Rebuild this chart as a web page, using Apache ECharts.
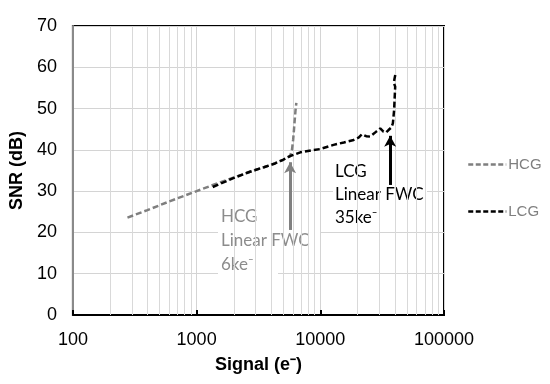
<!DOCTYPE html>
<html>
<head>
<meta charset="utf-8">
<script src="https://cdn.jsdelivr.net/npm/echarts@6/dist/echarts.min.js"></script>
<style>html,body{margin:0;padding:0;background:#fff}#c{width:550px;height:384px}</style>
</head>
<body>
<div id="c"></div>
<script>
// ---- data ----
const hcgX = [276, 400, 600, 1000, 1500, 2000, 2700, 3500, 4300, 5000, 5700, 5900, 6030, 6130, 6210, 6300, 6400];
const hcgY = [23.6, 25.4, 27.5, 30.0, 32.0, 33.3, 34.7, 35.8, 36.7, 37.6, 38.5, 40.0, 42.4, 45.0, 47.2, 49.5, 51.4];
const lcgX = [1350, 2000, 2700, 3500, 4300, 5000, 5700, 6900, 8500, 10000, 12800, 15500, 18600, 20500, 21700, 23500, 25300, 28000, 30500, 32400, 34000, 35600, 37500, 38600, 39500, 40300, 39300, 39800, 40600];
const lcgY = [31.0, 33.2, 34.7, 35.8, 36.7, 37.6, 38.5, 39.4, 39.9, 40.2, 41.2, 41.8, 42.4, 43.0, 43.8, 43.3, 43.2, 44.3, 45.2, 44.4, 44.2, 44.8, 45.4, 46.4, 49.6, 55.3, 56.3, 57.2, 58.5];
const xTickLabels = [100, 1000, 10000, 100000];
const minorGridX = [200,300,400,500,600,700,800,900,2000,3000,4000,5000,6000,7000,8000,9000,20000,30000,40000,50000,60000,70000,80000,90000];
const hcgArrow = [[5700, 20.6], [5700, 37.0]];
const lcgArrow = [[36700, 31.5], [36700, 43.4]];

const chart = echarts.init(document.getElementById('c'), null, {renderer: 'canvas'});
const zip = (xs, ys) => xs.map((x, i) => [x, ys[i]]);
const font = 'Liberation Sans, Arial, sans-serif';
const annFont = 'Lato, "Open Sans", sans-serif';

chart.setOption({
  animation: false,
  backgroundColor: '#fff',
  grid: {left: 72, right: 106, top: 26, bottom: 69, show: true, borderColor: '#000', borderWidth: 2, backgroundColor: 'transparent'},
  xAxis: {
    type: 'log', logBase: 10, min: 100, max: 100000,
    name: 'Signal (e⁻)', nameLocation: 'middle', nameGap: 41,
    nameTextStyle: {fontFamily: font, fontSize: 18, fontWeight: 'bold', color: '#000'},
    axisLine: {show: true, lineStyle: {color: '#000', width: 2}},
    axisTick: {show: true, inside: true, length: 5, lineStyle: {color: '#000', width: 2}},
    axisLabel: {fontFamily: font, fontSize: 18, color: '#000', margin: 16,
      formatter: v => { const r = Math.round(v); return xTickLabels.includes(r) ? String(r) : ''; }},
    splitLine: {show: true, lineStyle: {color: '#d4d4d4', width: 1}}
  },
  yAxis: {
    type: 'value', min: 0, max: 70, interval: 10,
    name: 'SNR (dB)', nameLocation: 'middle', nameGap: 44, nameRotate: 90,
    nameTextStyle: {fontFamily: font, fontSize: 18, fontWeight: 'bold', color: '#000'},
    axisLine: {show: true, lineStyle: {color: '#8a8a8a', width: 2}},
    axisTick: {show: false},
    axisLabel: {fontFamily: font, fontSize: 18, color: '#000', margin: 16},
    splitLine: {show: true, lineStyle: {color: '#d4d4d4', width: 1}}
  },
  legend: [
    {data: ['HCG'], left: 465, top: 155, itemWidth: 38, itemHeight: 14, itemGap: 2, padding: [2, 2],
     itemStyle: {opacity: 0}, lineStyle: {width: 2.5, type: [5, 2.5]},
     textStyle: {fontFamily: font, fontSize: 15, color: '#7f7f7f', padding: [0, 0, 0, -3]}},
    {data: ['LCG'], left: 465, top: 202, itemWidth: 38, itemHeight: 14, itemGap: 2, padding: [2, 2],
     itemStyle: {opacity: 0}, lineStyle: {width: 2.5, type: [5, 2.5]},
     textStyle: {fontFamily: font, fontSize: 15, color: '#7f7f7f', padding: [0, 0, 0, -3]}}
  ],
  graphic: [
    {type: 'rect', z: 3, shape: {x: 218, y: 203, width: 60, height: 74}, style: {fill: '#fff'}},
    {type: 'rect', z: 3, shape: {x: 218, y: 230, width: 102, height: 24}, style: {fill: '#fff'}},
    {type: 'text', z: 4, left: 221, top: 205, style: {text: 'HCG\nLinear FWC\n6ke⁻', fill: '#8c8c8c', font: '17px ' + annFont, lineHeight: 24}},
    {type: 'rect', z: 3, shape: {x: 333, y: 158, width: 52, height: 70}, style: {fill: '#fff'}},
    {type: 'rect', z: 3, shape: {x: 333, y: 183, width: 94, height: 24}, style: {fill: '#fff'}},
    {type: 'text', z: 4, left: 335, top: 160, style: {text: 'LCG\nLinear FWC\n35ke⁻', fill: '#000', font: '17px ' + annFont, lineHeight: 23}}
  ],
  series: [
    {type: 'line', name: 'grid', data: [], z: 1, silent: true,
     markLine: {silent: true, symbol: ['none', 'none'], label: {show: false},
       lineStyle: {color: '#d9d9d9', width: 1, type: 'solid'},
       data: minorGridX.map(x => ({xAxis: x}))}},
    {type: 'line', name: 'HCG', data: zip(hcgX, hcgY), symbol: 'none', z: 5,
     lineStyle: {color: '#7f7f7f', width: 2.5, type: [6, 3]}, itemStyle: {color: '#7f7f7f'}},
    {type: 'line', name: 'LCG', data: zip(lcgX, lcgY), symbol: 'none', z: 6,
     lineStyle: {color: '#000', width: 2.5, type: [6, 3]}, itemStyle: {color: '#000'}},
    {type: 'line', name: 'arrows', data: [], z: 7, silent: true,
     markLine: {silent: true, symbol: ['none', 'arrow'], symbolSize: [9, 11], label: {show: false},
       data: [
         [{coord: hcgArrow[0], lineStyle: {color: '#808080', width: 3, type: 'solid'}}, {coord: hcgArrow[1]}],
         [{coord: lcgArrow[0], lineStyle: {color: '#000', width: 3, type: 'solid'}}, {coord: lcgArrow[1]}]
       ]}}
  ]
});
</script>
</body>
</html>
